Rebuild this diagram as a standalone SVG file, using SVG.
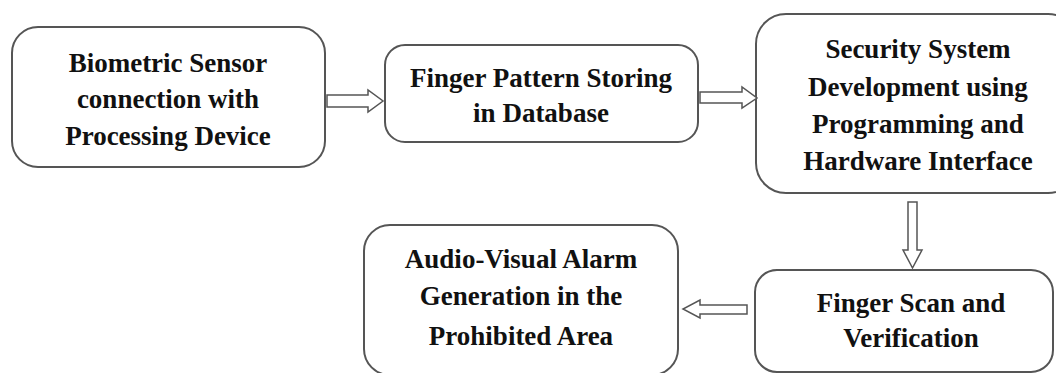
<svg xmlns="http://www.w3.org/2000/svg" width="1056" height="373" viewBox="0 0 1056 373">
<style>
.box{fill:#fff;stroke:#555;stroke-width:2}
.arr{fill:#fff;stroke:#555;stroke-width:1.5;stroke-linejoin:miter}
.t{font-family:'Liberation Serif','Tinos','Times New Roman','DejaVu Serif',serif;font-weight:700;font-size:27px;fill:#111;text-anchor:middle}
</style>
<rect width="1056" height="373" fill="#fff"/>
<g id="n1">
<rect class="box" x="12" y="27" width="313" height="140" rx="26"/>
<text class="t" x="168" y="72">Biometric Sensor</text>
<text class="t" x="168" y="108">connection with</text>
<text class="t" x="168" y="145">Processing Device</text>
</g>
<g id="n2">
<rect class="box" x="385" y="45" width="313" height="97" rx="20"/>
<text class="t" x="541" y="87">Finger Pattern Storing</text>
<text class="t" x="541" y="122">in Database</text>
</g>
<g id="n3">
<rect class="box" x="756" y="14" width="322" height="179" rx="30"/>
<text class="t" x="918" y="58">Security System</text>
<text class="t" x="918" y="96">Development using</text>
<text class="t" x="918" y="133">Programming and</text>
<text class="t" x="918" y="170">Hardware Interface</text>
</g>
<g id="n4">
<rect class="box" x="755" y="270" width="298" height="102" rx="22"/>
<text class="t" x="911" y="312">Finger Scan and</text>
<text class="t" x="911" y="347">Verification</text>
</g>
<g id="n5">
<rect class="box" x="364" y="225" width="314" height="150" rx="26"/>
<text class="t" x="521" y="268">Audio-Visual Alarm</text>
<text class="t" x="521" y="305">Generation in the</text>
<text class="t" x="521" y="345">Prohibited Area</text>
</g>
<g id="connectors">
<polygon class="arr" points="327,95 368,95 368,90 383,101 368,112 368,107 327,107"/>
<polygon class="arr" points="700,92 742,92 742,87 757,98 742,108 742,103 700,103"/>
<polygon class="arr" points="908,202 917,202 917,250 922,250 912.5,268 903,250 908,250"/>
<polygon class="arr" points="747,305 700,305 700,300 683,309 700,318 700,314 747,314"/>
</g>
</svg>
